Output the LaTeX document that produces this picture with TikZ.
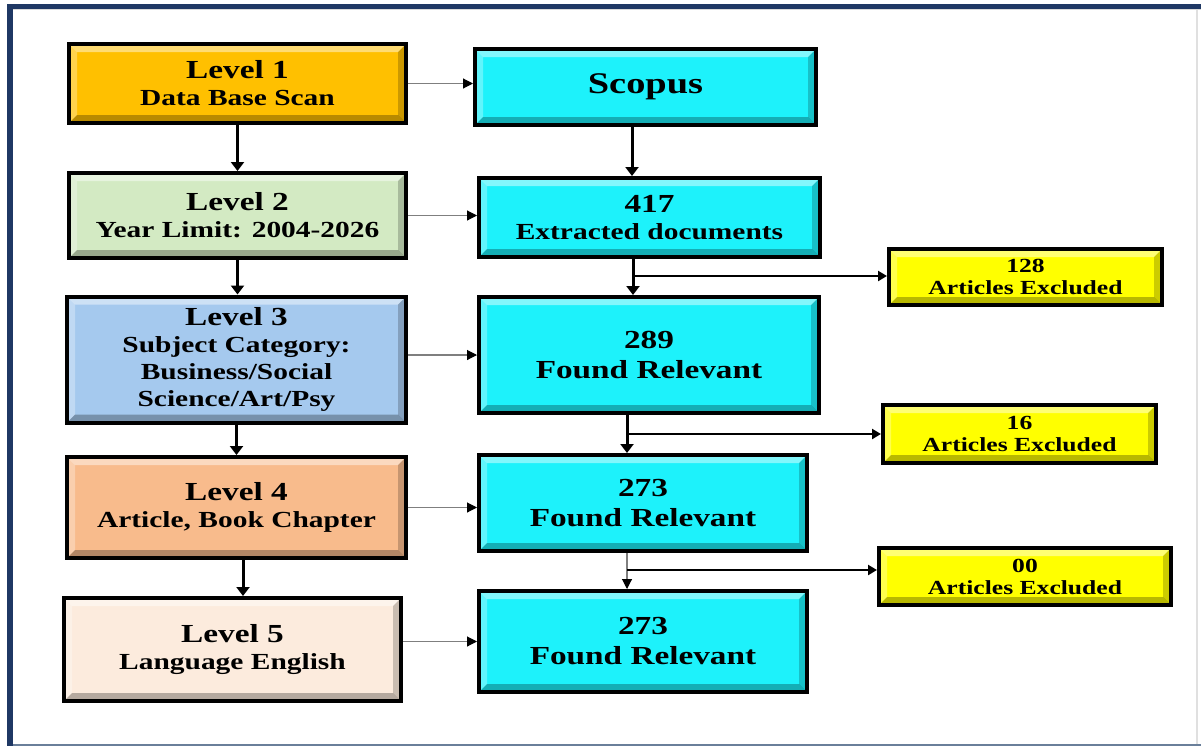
\documentclass[tikz,border=0pt]{standalone}
\usepackage{fontspec}
\newfontfamily\dfont{Liberation Serif}[FakeStretch=1.28]
\usetikzlibrary{arrows.meta,shadows}
\definecolor{navy}{HTML}{1F3864}
\definecolor{framegrey}{HTML}{6A7F9A}
\definecolor{gold}{HTML}{FFC000}
\definecolor{lgreen}{HTML}{D3EAC3}
\definecolor{lblue}{HTML}{A5C9EE}
\definecolor{peach}{HTML}{F8BB8C}
\definecolor{cream}{HTML}{FCEBDD}
\definecolor{cyanbox}{HTML}{1DF2FB}
\definecolor{ybox}{HTML}{FFFF00}
\definecolor{thingrey}{HTML}{7F7F7F}
\newcommand{\bevelpic}{%
  \fill[white,opacity=0.45] (path picture bounding box.north west) -- (path picture bounding box.north east)
     -- ([shift={(-8pt,-8pt)}]path picture bounding box.north east) -- ([shift={(8pt,-8pt)}]path picture bounding box.north west) -- cycle;
  \fill[white,opacity=0.3] (path picture bounding box.north west) -- (path picture bounding box.south west)
     -- ([shift={(8pt,8pt)}]path picture bounding box.south west) -- ([shift={(8pt,-8pt)}]path picture bounding box.north west) -- cycle;
  \fill[black,opacity=0.28] (path picture bounding box.south west) -- (path picture bounding box.south east)
     -- ([shift={(-8pt,8pt)}]path picture bounding box.south east) -- ([shift={(8pt,8pt)}]path picture bounding box.south west) -- cycle;
  \fill[black,opacity=0.2] (path picture bounding box.north east) -- (path picture bounding box.south east)
     -- ([shift={(-8pt,8pt)}]path picture bounding box.south east) -- ([shift={(-8pt,-8pt)}]path picture bounding box.north east) -- cycle;
}
\newcommand{\lvl}[1]{{\fontsize{26}{27}\selectfont #1}}
\newcommand{\subt}[1]{{\fontsize{23}{27}\selectfont #1}}
\tikzset{
  box/.style={draw=black, line width=4pt, rectangle, align=center, inner sep=0pt,
    font=\dfont\bfseries\fontsize{23}{27}\selectfont,
    drop shadow={shadow xshift=2pt, shadow yshift=-2pt, opacity=0.35, fill=black!60},
    path picture=\bevelpic},
  cbox/.style={box, fill=cyanbox, font=\dfont\bfseries\fontsize{26}{30}\selectfont},
  ybx/.style={box, fill=ybox, font=\dfont\bfseries\fontsize{20}{22}\selectfont},
  thickarrow/.style={draw=black, line width=3pt, -{Triangle[length=9pt,width=13pt]}},
  thinarrow/.style={draw=thingrey, line width=1.1pt, -{Triangle[length=10pt,width=10pt,color=black]}},
  branch/.style={draw=black, line width=2.5pt, -{Triangle[length=9pt,width=10pt]}},
}
\begin{document}
\begin{tikzpicture}[x=1pt,y=-1pt]
\useasboundingbox (0,0) rectangle (1201,747);
\fill[white] (0,0) rectangle (1201,747);
% frame
\fill[navy] (7,4) rectangle (1201,8.5);
\fill[navy] (7,4) rectangle (13,746);
\fill[framegrey] (13,744) rectangle (1201,746);
\fill[black!12] (1196,9) rectangle (1197.5,744);
\fill[black!15] (13,8.5) rectangle (1201,9.5);

% left column
\node[box, fill=gold,  minimum width=337pt, minimum height=79pt]  (L1) at (237.5,83.5) {\lvl{Level 1}\\\subt{Data Base Scan}};
\node[box, fill=lgreen, minimum width=337pt, minimum height=85pt] (L2) at (237.5,215.5) {\lvl{Level 2}\\\subt{Year Limit: 2004-2026}};
\node[box, fill=lblue, minimum width=339pt, minimum height=126pt] (L3) at (236.5,359.5) {\lvl{Level 3}\\\subt{Subject Category:}\\\subt{Business/Social}\\\subt{Science/Art/Psy}};
\node[box, fill=peach, minimum width=339pt, minimum height=101pt] (L4) at (236.5,507.5) {\lvl{Level 4}\\\subt{Article, Book Chapter}};
\node[box, fill=cream, minimum width=337pt, minimum height=103pt] (L5) at (232.5,649.5) {\lvl{Level 5}\\\subt{Language English}};

% right column
\node[cbox, minimum width=341pt, minimum height=76pt, font=\dfont\bfseries\fontsize{30}{32}\selectfont] (S) at (645.5,87) {Scopus};
\node[cbox, minimum width=341pt, minimum height=79pt, font=\dfont\bfseries\fontsize{26}{27}\selectfont] (R2) at (649.5,217.5) {417\\{\fontsize{23}{27}\selectfont Extracted documents}};
\node[cbox, minimum width=340pt, minimum height=116pt] (R3) at (649,355) {289\\Found Relevant};
\node[cbox, minimum width=328pt, minimum height=96pt] (R4) at (643,503) {273\\Found Relevant};
\node[cbox, minimum width=328pt, minimum height=101pt] (R5) at (643,641.5) {273\\Found Relevant};

% excluded boxes
\node[ybx, minimum width=273pt, minimum height=56pt] (Y1) at (1025.5,277) {128\\Articles Excluded};
\node[ybx, minimum width=273pt, minimum height=58pt] (Y2) at (1019.5,434) {16\\Articles Excluded};
\node[ybx, minimum width=292pt, minimum height=57pt] (Y3) at (1025,576.5) {00\\Articles Excluded};

% left vertical arrows
\draw[thickarrow] (L1.south) -- (L1.south |- L2.north);
\draw[thickarrow] (L2.south) -- (L2.south |- L3.north);
\draw[thickarrow] (L3.south) -- (L3.south |- L4.north);
\draw[thickarrow] ([xshift=6.5pt]L4.south) -- ([xshift=6.5pt]L4.south |- L5.north);

% left to right arrows
\draw[thinarrow] (L1.east) -- (L1.east -| S.west);
\draw[thinarrow] (L2.east) -- (L2.east -| R2.west);
\draw[thinarrow] (R3.west -| L3.east) -- (R3.west);
\draw[thinarrow] (L4.east) -- (L4.east -| R4.west);
\draw[thinarrow] (R5.west -| L5.east) -- (R5.west);

% right vertical arrows and branches
\coordinate (v1) at (632,100);
\coordinate (b1) at (633,276);
\coordinate (b2) at (627,434);
\coordinate (b3) at (627,570);
\draw[thickarrow] (S.south -| v1) -- (R2.north -| v1);
\draw[thickarrow] (R2.south -| b1) -- (R3.north -| b1);
\draw[branch] (b1) -- (b1 -| Y1.west);
\draw[thickarrow] (R3.south -| b2) -- (R4.north -| b2);
\draw[branch] (b2) -- (b2 -| Y2.west);
\draw[thinarrow] (R4.south -| b3) -- (R5.north -| b3);
\draw[branch] (b3) -- (b3 -| Y3.west);
\end{tikzpicture}
\end{document}
